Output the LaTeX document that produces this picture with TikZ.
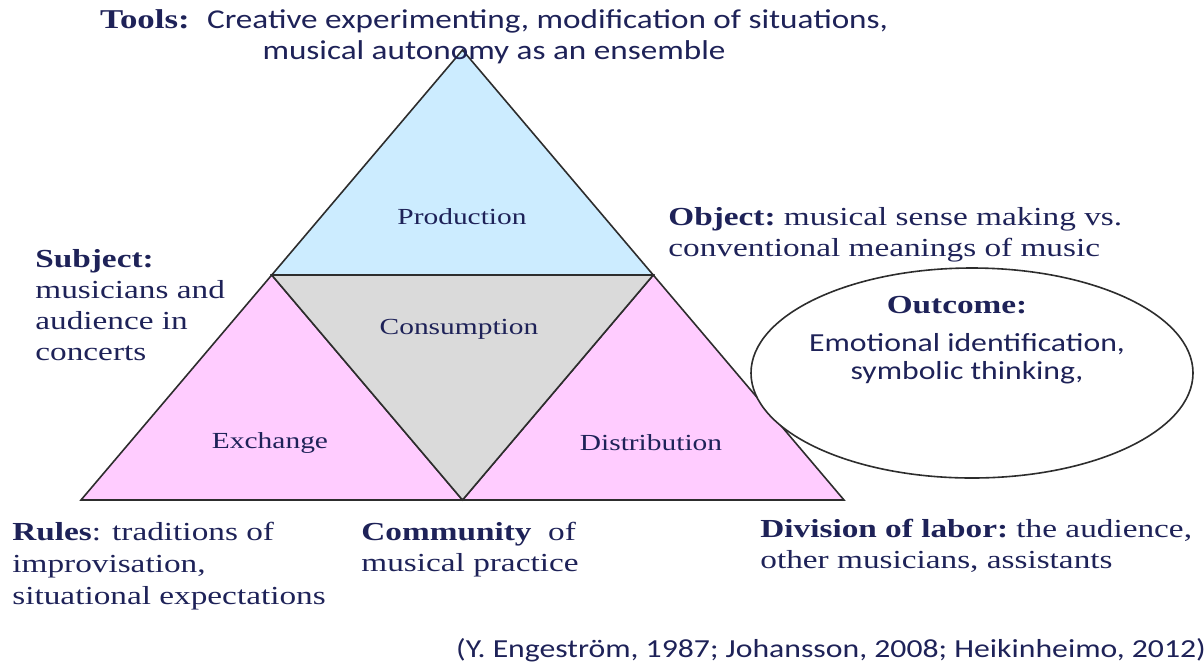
\documentclass[tikz,border=0pt]{standalone}
\usepackage{fontspec}
\setmainfont{Liberation Serif}[FakeStretch=1.28]
\newfontfamily\calibri{Carlito}[FakeStretch=1.22]
\usepackage{tikz}
\usetikzlibrary{shapes.geometric}
\definecolor{ink}{RGB}{30,34,88}
\definecolor{prodblue}{RGB}{204,236,255}
\definecolor{consgray}{RGB}{218,218,218}
\definecolor{exchpink}{RGB}{255,204,255}
\definecolor{edge}{RGB}{45,45,45}

\begin{document}
\begin{tikzpicture}[x=0.5pt,y=-0.5pt,
  part/.style={draw=edge, line width=0.8pt, line join=miter},
  note/.style={text=ink, font=\fontsize{13}{15.5}\selectfont, align=left, inner sep=0pt, anchor=north west},
  area/.style={text=ink, font=\fontsize{11.5}{13}\selectfont, inner sep=0pt}]
\useasboundingbox (0,0) rectangle (1204,666);
\coordinate (apex) at (462.5,50);
\coordinate (midL) at (271.75,275);
\coordinate (midR) at (653.25,275);
\coordinate (baseL) at (81,500);
\coordinate (baseM) at (462.5,500);
\coordinate (baseR) at (844,500);
\draw[part, fill=prodblue] (apex) -- (midL) -- (midR) -- cycle;
\draw[part, fill=exchpink] (midL) -- (baseL) -- (baseM) -- cycle;
\draw[part, fill=exchpink] (midR) -- (baseM) -- (baseR) -- cycle;
\draw[part, fill=consgray] (midL) -- (midR) -- (baseM) -- cycle;
\node[area] (production) at (462,217) {Production};
\node[area] (consumption) at (459,329) {Consumption};
\node[area] (exchange) at (270,443) {Exchange};
\node[area] (distribution) at (651,443) {Distribution};
\node[part, ellipse, fill=white, minimum width=221pt, minimum height=105pt, inner sep=0pt] (outcomebox) at (972,373) {};
\node[note, anchor=center, align=center, font=\fontsize{13.6}{15.5}\selectfont] (tools) at (494,37) {\textbf{Tools:}\ \ {\calibri Creative experimenting,\ modification of situations,}\\{\calibri musical autonomy as an ensemble}};
\node[note] (object) at (668,207) {\textbf{Object:}\ musical\ sense making vs.\\conventional meanings of music};
\node[note] (subject) at (35,249) {\textbf{Subject:}\\musicians\ and\\audience in\\concerts};
\node[note, font=\fontsize{13}{16}\selectfont] (rules) at (12,522) {\textbf{Rules}: traditions of\\improvisation,\\situational expectations};
\node[note] (community) at (361,522) {\textbf{Community}\ \ of\\musical practice};
\node[note] (division) at (760,519) {\textbf{Division of labor:}\ the audience,\\other musicians, assistants};
\node[note, anchor=center] (outcome) at (957,305) {\textbf{Outcome:}};
\node[note, anchor=center, align=center, font=\fontsize{13}{14}\selectfont\calibri] (outcometext) at (967,359) {Emotional identification,\\symbolic thinking,};
\node[note, anchor=center, font=\fontsize{13}{15.5}\selectfont\calibri] (source) at (831,650) {(Y. Engeström, 1987; Johansson, 2008; Heikinheimo, 2012)};
\end{tikzpicture}
\end{document}
